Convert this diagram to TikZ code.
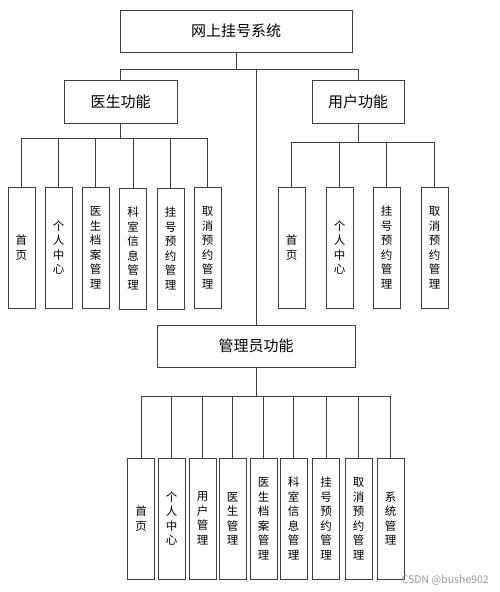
\documentclass[tikz,border=0pt]{standalone}
\usepackage{fontspec}
\setmainfont{Noto Sans CJK SC}
\begin{document}
\begin{tikzpicture}[x=1pt,y=-1pt,
  conn/.style={draw=black!75, line width=0.9pt},
  headbox/.style={draw=black!75, line width=0.9pt, inner sep=0pt, font=\fontsize{15}{18}\selectfont},
  leaf/.style={draw=black!75, line width=0.9pt, minimum width=27pt, minimum height=121pt, inner sep=0pt, align=center, font=\fontsize{11.5}{14.5}\selectfont}]
\useasboundingbox (0,0) rectangle (500,592);
% top levels
\node[headbox, minimum width=232pt, minimum height=42pt] (root) at (236,31) {网上挂号系统};
\node[headbox, minimum width=113pt, minimum height=43pt] (doc) at (120.5,101.5) {医生功能};
\node[headbox, minimum width=92pt, minimum height=43pt] (usr) at (358,101.5) {用户功能};
\node[headbox, minimum width=198pt, minimum height=42pt] (adm) at (256,346) {管理员功能};
% doctor leaves
\node[leaf] (d1) at (21.5,247.5) {首\\页};
\node[leaf] (d2) at (58.5,247.5) {个\\人\\中\\心};
\node[leaf] (d3) at (95.5,247.5) {医\\生\\档\\案\\管\\理};
\node[leaf] (d4) at (133,248.5) {科\\室\\信\\息\\管\\理};
\node[leaf] (d5) at (170.5,248.5) {挂\\号\\预\\约\\管\\理};
\node[leaf] (d6) at (207.5,247.5) {取\\消\\预\\约\\管\\理};
% user leaves
\node[leaf] (u1) at (291.5,247.5) {首\\页};
\node[leaf] (u2) at (339.5,247.5) {个\\人\\中\\心};
\node[leaf] (u3) at (386.5,247.5) {挂\\号\\预\\约\\管\\理};
\node[leaf] (u4) at (434.5,247.5) {取\\消\\预\\约\\管\\理};
% admin leaves
\node[leaf] (a1) at (141,518.5) {首\\页};
\node[leaf] (a2) at (171.5,518.5) {个\\人\\中\\心};
\node[leaf] (a3) at (202.5,518.5) {用\\户\\管\\理};
\node[leaf] (a4) at (232.5,518.5) {医\\生\\管\\理};
\node[leaf] (a5) at (263.5,518.5) {医\\生\\档\\案\\管\\理};
\node[leaf] (a6) at (293.5,518.5) {科\\室\\信\\息\\管\\理};
\node[leaf] (a7) at (326,518.5) {挂\\号\\预\\约\\管\\理};
\node[leaf] (a8) at (358.5,518.5) {取\\消\\预\\约\\管\\理};
\node[leaf] (a9) at (390.5,518.5) {系\\统\\管\\理};
% junction coordinates
\coordinate (rj) at (236,69);
\coordinate (dj) at (120.5,138);
\coordinate (uj) at (358,142);
\coordinate (aj) at (256,396);
% root connectors
\draw[conn] (root.south) -- (rj);
\draw[conn] (doc.north) -- (doc.north |- rj) -- (usr.north |- rj) -- (usr.north);
\draw[conn] (adm.north) -- (adm.north |- rj);
% doctor connectors
\draw[conn] (doc.south) -- (dj);
\draw[conn] (d1.north |- dj) -- (d6.north |- dj);
\foreach \n in {d1,d2,d3,d4,d5,d6} \draw[conn] (\n.north) -- (\n.north |- dj);
% user connectors
\draw[conn] (usr.south) -- (uj);
\draw[conn] (u1.north |- uj) -- (u4.north |- uj);
\foreach \n in {u1,u2,u3,u4} \draw[conn] (\n.north) -- (\n.north |- uj);
% admin connectors
\draw[conn] (adm.south) -- (aj);
\draw[conn] (a1.north |- aj) -- (a9.north |- aj);
\foreach \n in {a1,a2,a3,a4,a5,a6,a7,a8,a9} \draw[conn] (\n.north) -- (\n.north |- aj);
% watermark
\node[anchor=east, text=black!40, font=\fontsize{10.5}{12}\selectfont, inner sep=0pt] (wm) at (489,580.5) {CSDN @bushe902};
\end{tikzpicture}
\end{document}
